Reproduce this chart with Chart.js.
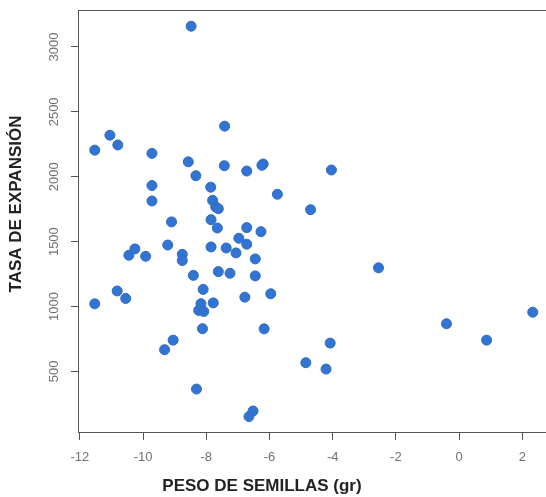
<!DOCTYPE html>
<html>
<head>
<meta charset="utf-8">
<script src="https://cdn.jsdelivr.net/npm/chart.js@4/dist/chart.umd.min.js"></script>
<style>
  html, body { margin: 0; padding: 0; background: #fff; }
  #wrap { width: 546px; height: 497px; }
</style>
</head>
<body>
<div id="wrap"><canvas id="scatter" width="546" height="497"></canvas></div>
<script>
// seed weight (gr) and expansion rate
const pesoSemillas = [
  -8.48, -11.53, -11.05, -10.80, -9.72, -9.72, -9.72, -8.57, -8.33, -7.42,
  -7.43, -6.72, -6.20, -6.24, -5.75, -4.04, -4.70, -7.86, -7.80, -7.70,
  -7.62, -9.10, -7.85, -7.65, -6.72, -6.27, -6.97, -6.72, -9.22, -8.76,
  -8.76, -7.85, -7.37, -7.06, -6.45, -10.45, -10.26, -9.92, -8.41, -7.62,
  -7.25, -6.45, -8.10, -8.17, -8.24, -8.08, -7.78, -6.78, -5.96, -8.12,
  -6.17, -9.05, -9.32, -4.08, -4.85, -4.21, -8.31, -6.65, -6.52, -2.55,
  -11.53, -10.82, -10.55, -0.40, 0.87, 2.33
];
const tasaExpansion = [
  3160, 2205, 2320, 2245, 2180, 1932, 1813, 2115, 2008, 2390,
  2085, 2044, 2098, 2088, 1865, 2052, 1746, 1920, 1818, 1767,
  1754, 1652, 1669, 1605, 1608, 1577, 1526, 1480, 1474, 1402,
  1354, 1459, 1451, 1413, 1367, 1395, 1444, 1387, 1240, 1269,
  1256, 1236, 1132, 1022, 970, 962, 1028, 1072, 1098, 829,
  828, 741, 667, 718, 567, 518, 364, 152, 195, 1298,
  1021, 1120, 1062, 867, 741, 956
];
const xTicks = [-12, -10, -8, -6, -4, -2, 0, 2];
const yTicks = [500, 1000, 1500, 2000, 2500, 3000];
const xTitle = 'PESO DE SEMILLAS (gr)';
const yTitle = 'TASA DE EXPANSIÓN';

const points = pesoSemillas.map((x, i) => ({ x: x, y: tasaExpansion[i] }));

// top frame line and the two axis titles
const framePlugin = {
  id: 'frame',
  afterDraw(chart) {
    const { ctx, chartArea } = chart;
    ctx.save();
    ctx.strokeStyle = '#555';
    ctx.lineWidth = 1;
    ctx.beginPath();
    ctx.moveTo(chartArea.left, chartArea.top + 0.5);
    ctx.lineTo(chartArea.right, chartArea.top + 0.5);
    ctx.stroke();

    ctx.fillStyle = '#222';
    ctx.font = 'bold 17px "Liberation Sans", Arial, sans-serif';
    ctx.textAlign = 'center';
    ctx.textBaseline = 'middle';
    ctx.fillText(xTitle, 262, 486);

    ctx.translate(16, 204);
    ctx.rotate(-Math.PI / 2);
    ctx.fillText(yTitle, 0, 0);
    ctx.restore();
  }
};

const tickFont = { family: '"Liberation Sans", Arial, sans-serif', size: 13 };

new Chart(document.getElementById('scatter'), {
  type: 'scatter',
  data: {
    datasets: [{
      data: points,
      backgroundColor: '#3374d3',
      borderColor: '#2d6bc4',
      borderWidth: 1,
      pointRadius: 5,
      pointHoverRadius: 5
    }]
  },
  options: {
    responsive: false,
    animation: false,
    layout: { autoPadding: false, padding: { top: 10, right: 0, left: 0, bottom: 0 } },
    plugins: {
      legend: { display: false },
      tooltip: { enabled: false }
    },
    scales: {
      x: {
        type: 'linear',
        min: -12.06,
        max: 2.75,
        afterBuildTicks: scale => { scale.ticks = xTicks.map(v => ({ value: v })); },
        afterFit: scale => {
          scale.height = 65;
          scale.paddingLeft = 0;
          scale.paddingRight = 0;
        },
        grid: { drawOnChartArea: false, drawTicks: true, tickLength: 8, color: '#555' },
        border: { display: true, color: '#555', width: 1 },
        ticks: { font: tickFont, color: '#707070', padding: 10, maxRotation: 0, autoSkip: false }
      },
      y: {
        type: 'linear',
        min: 33,
        max: 3285,
        afterBuildTicks: scale => { scale.ticks = yTicks.map(v => ({ value: v })); },
        afterFit: scale => {
          scale.width = 78;
          scale.paddingTop = 0;
          scale.paddingBottom = 0;
        },
        grid: { drawOnChartArea: false, drawTicks: true, tickLength: 7, color: '#555' },
        border: { display: true, color: '#555', width: 1 },
        ticks: {
          font: tickFont, color: '#707070', padding: 2,
          minRotation: 90, maxRotation: 90, crossAlign: 'center', autoSkip: false,
          callback: v => String(v)
        }
      }
    }
  },
  plugins: [framePlugin]
});
</script>
</body>
</html>
